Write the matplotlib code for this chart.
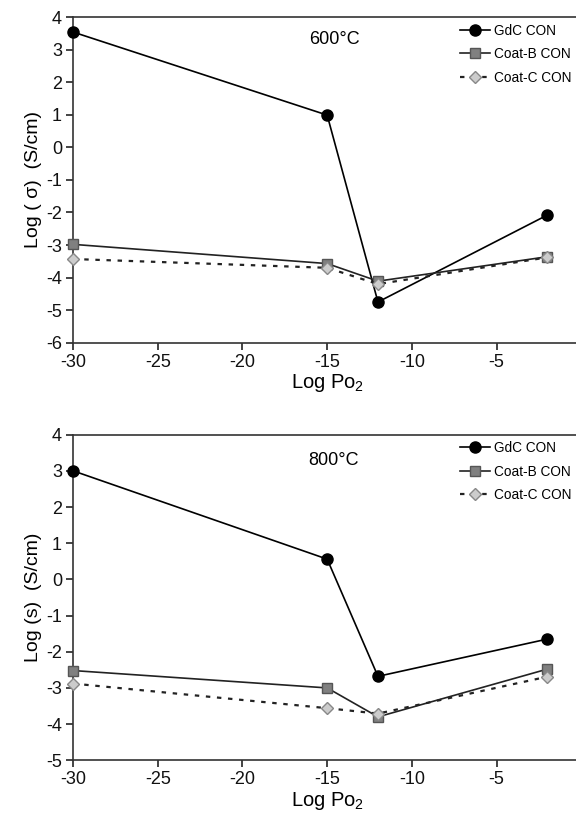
import matplotlib
matplotlib.use("Agg")
import matplotlib.pyplot as plt

plt.rcParams["font.family"] = ["Liberation Sans", "DejaVu Sans"]
plt.rcParams["mathtext.fontset"] = "custom"
plt.rcParams["mathtext.rm"] = "Liberation Sans"
plt.rcParams["axes.unicode_minus"] = False

# Log pO2 positions (shared by both panels)
log_po2 = [-30, -15, -12, -2]
series_names = ["GdC CON", "Coat-B CON", "Coat-C CON"]

# 600 C panel
gdc_600 = [3.54, 0.99, -4.75, -2.08]
coatb_600 = [-2.98, -3.57, -4.11, -3.36]
coatc_600 = [-3.43, -3.70, -4.20, -3.38]

# 800 C panel
gdc_800 = [3.00, 0.56, -2.68, -1.65]
coatb_800 = [-2.52, -3.00, -3.80, -2.48]
coatc_800 = [-2.88, -3.56, -3.71, -2.69]

panels = [
    dict(vals=(gdc_600, coatb_600, coatc_600), temp="600\u00b0C",
         ylabel="Log ( \u03c3)  (S/cm)", ylim=(-6, 4), rect=[0.127, 0.579, 0.882, 0.400]),
    dict(vals=(gdc_800, coatb_800, coatc_800), temp="800\u00b0C",
         ylabel="Log (s)  (S/cm)", ylim=(-5, 4), rect=[0.127, 0.066, 0.882, 0.400]),
]

styles = [
    dict(color="black", ls="-", lw=1.2, marker="o", ms=8, mfc="black", mec="black"),
    dict(color="#222222", ls="-", lw=1.2, marker="s", ms=7.5, mfc="#808080", mec="#555555"),
    dict(color="#222222", ls=(0, (2, 3)), lw=1.6, marker="D", ms=6, mfc="#cccccc", mec="#888888"),
]

fig = plt.figure(figsize=(5.76, 8.14), dpi=100)
for p in panels:
    ax = fig.add_axes(p["rect"])
    for name, v, st in zip(series_names, p["vals"], styles):
        ax.plot(log_po2, v, label=name, clip_on=False, zorder=3, **st)
    ax.set_xlim(-30, 0)
    ax.set_ylim(*p["ylim"])
    ax.set_xticks(range(-30, 1, 5))
    ax.set_yticks(range(p["ylim"][0], p["ylim"][1] + 1))
    ax.spines["right"].set_visible(False)
    for s in ("left", "bottom", "top"):
        ax.spines[s].set_linewidth(1.2)
        ax.spines[s].set_color("#333333")
    ax.tick_params(direction="out", length=5, width=1.1, labelsize=13, colors="#111111", pad=3)
    ax.set_xlabel("Log Po$_\\mathregular{2}$", fontsize=14.5, labelpad=1)
    ax.set_ylabel(p["ylabel"], fontsize=14, labelpad=3)
    ax.text(-14.6, p["ylim"][1] - 0.7, p["temp"], fontsize=13, ha="center", va="center")
    ax.legend(loc="upper left", bbox_to_anchor=(0.762, 0.98), frameon=False, fontsize=9.8,
              handlelength=2.2, handletextpad=0.25, labelspacing=0.7, borderpad=0, borderaxespad=0)

fig.savefig("out.png", dpi=100)
